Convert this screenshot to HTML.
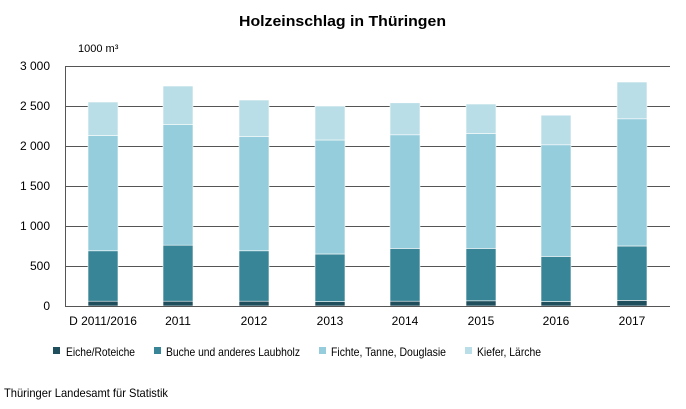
<!DOCTYPE html>
<html><head><meta charset="utf-8"><style>
body{margin:0;background:#fff;}
svg{display:block;font-family:"Liberation Sans",Arial,sans-serif;}
</style></head><body>
<svg width="686" height="409" viewBox="0 0 686 409" xmlns="http://www.w3.org/2000/svg">
<text x="239" y="26" textLength="207" lengthAdjust="spacingAndGlyphs" font-size="15" font-weight="bold" fill="#000">Holzeinschlag in Thüringen</text>
<text x="78" y="52" font-size="11" fill="#000">1000 m³</text>
<g stroke="#555" stroke-width="1">
<line x1="65" x2="670" y1="66.5" y2="66.5"/>
<line x1="65" x2="670" y1="106.5" y2="106.5"/>
<line x1="65" x2="670" y1="146.5" y2="146.5"/>
<line x1="65" x2="670" y1="186.5" y2="186.5"/>
<line x1="65" x2="670" y1="226.5" y2="226.5"/>
<line x1="65" x2="670" y1="266.5" y2="266.5"/>
<line x1="65.5" x2="65.5" y1="66" y2="306"/>
</g>
<g font-size="12" fill="#000" text-anchor="end">
<text x="50" y="70">3 000</text>
<text x="50" y="110">2 500</text>
<text x="50" y="150">2 000</text>
<text x="50" y="190">1 500</text>
<text x="50" y="230">1 000</text>
<text x="50" y="270">500</text>
<text x="50" y="310">0</text>
</g>
<g id="bars" stroke="#fff" stroke-width="0.6"></g>
<line x1="65" x2="670" y1="306.5" y2="306.5" stroke="#555"/>
<g font-size="12" fill="#000" text-anchor="middle">
<text x="103" y="325">D 2011/2016</text>
<text x="178" y="325">2011</text>
<text x="254" y="325">2012</text>
<text x="330" y="325">2013</text>
<text x="405" y="325">2014</text>
<text x="481" y="325">2015</text>
<text x="556" y="325">2016</text>
<text x="632" y="325">2017</text>
</g>
<g font-size="12" fill="#000" lengthAdjust="spacingAndGlyphs">
<rect x="53" y="347" width="7" height="7" fill="#1f4e5c"/><text x="66" y="356" textLength="69" lengthAdjust="spacingAndGlyphs">Eiche/Roteiche</text>
<rect x="154" y="347" width="7" height="7" fill="#378597"/><text x="166" y="356" textLength="134" lengthAdjust="spacingAndGlyphs">Buche und anderes Laubholz</text>
<rect x="319" y="347" width="7" height="7" fill="#96cddc"/><text x="331" y="356" textLength="115" lengthAdjust="spacingAndGlyphs">Fichte, Tanne, Douglasie</text>
<rect x="465" y="347" width="7" height="7" fill="#b9dee7"/><text x="477" y="356" textLength="64" lengthAdjust="spacingAndGlyphs">Kiefer, Lärche</text>
</g>
<text x="4" y="397" font-size="12" fill="#000" textLength="164" lengthAdjust="spacingAndGlyphs">Thüringer Landesamt für Statistik</text>
</svg>
<script>
var d=[[60,690,2130,2550],[60,760,2270,2750],[60,690,2120,2575],[55,650,2075,2500],[60,720,2140,2540],[65,720,2155,2525],[55,620,2015,2385],[70,750,2340,2800]];
var cols=["#1f4e5c","#378597","#96cddc","#b9dee7"];
var cx=[103,178,254,330,405,481,556,632];
var g=document.getElementById("bars"),s="";
d.forEach(function(v,i){var prev=0;v.forEach(function(t,j){var y1=306-t*0.08,y0=306-prev*0.08;s+='<rect x="'+(cx[i]-15)+'" y="'+y1+'" width="30" height="'+(y0-y1)+'" fill="'+cols[j]+'"/>';prev=t;});});
g.innerHTML=s;
</script>
</body></html>
